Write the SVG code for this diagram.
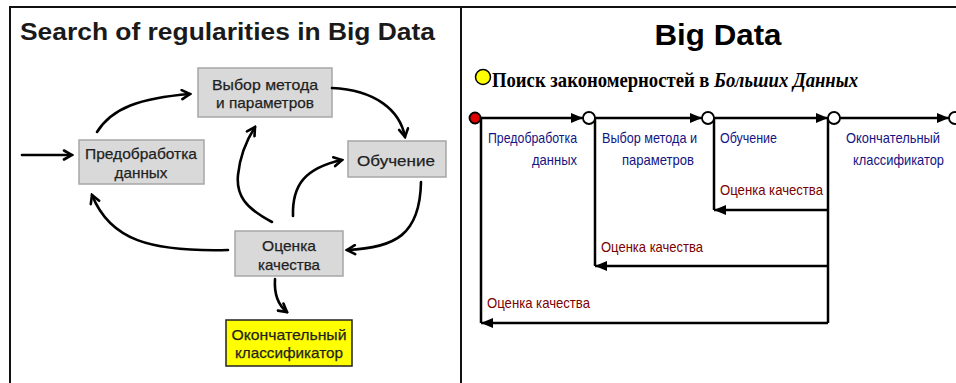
<svg xmlns="http://www.w3.org/2000/svg" width="956" height="383" viewBox="0 0 956 383">
<style>
.frame{stroke:#111;stroke-width:2;fill:none}
.box{fill:#d9d9d9;stroke:#a6a6a6;stroke-width:1.5}
.ybox{fill:#ffff00;stroke:#222;stroke-width:1.5}
.lt{font-family:"Liberation Sans",Arial,sans-serif;font-size:15px;fill:#1f1f1f;text-anchor:middle;stroke:#1f1f1f;stroke-width:0.25}
.curve{fill:none;stroke:#000;stroke-width:2.6;stroke-linecap:round}
.ln{fill:none;stroke:#000;stroke-width:2.5}
.blue{font-family:"Liberation Sans Narrow","Liberation Sans",Arial,sans-serif;font-size:15px;fill:#141482}
.red{font-family:"Liberation Sans Narrow","Liberation Sans",Arial,sans-serif;font-size:15px;fill:#7a0000}
.node{stroke:#000;stroke-width:1.8}
</style>
<defs>
<marker id="v" viewBox="0 0 12 12" refX="10" refY="6" markerWidth="12" markerHeight="12" markerUnits="userSpaceOnUse" orient="auto">
<path d="M2,1.5 L10,6 L2,10.5" fill="none" stroke="#000" stroke-width="2.6" stroke-linecap="round" stroke-linejoin="miter"/>
</marker>
<marker id="tri" viewBox="0 0 12 10" refX="12" refY="5" markerWidth="12" markerHeight="10" markerUnits="userSpaceOnUse" orient="auto">
<path d="M0,0 L12,5 L0,10 z" fill="#000"/>
</marker>
</defs>
<rect width="956" height="383" fill="#fff"/>
<g id="frame">
<path class="frame" d="M10,383 V7 H956 M461,7 V383"/>
</g>

<!-- Left panel -->
<text x="20" y="40" font-family="Liberation Sans,Arial,sans-serif" font-weight="bold" font-size="23" fill="#1a1a1a" textLength="415" lengthAdjust="spacingAndGlyphs">Search of regularities in Big Data</text>

<g id="n-vybor">
<rect class="box" x="198" y="68" width="134" height="49"/>
<text class="lt" x="265" y="90" textLength="106" lengthAdjust="spacingAndGlyphs">Выбор метода</text>
<text class="lt" x="265" y="108" textLength="98" lengthAdjust="spacingAndGlyphs">и параметров</text>
</g>
<g id="n-predobr">
<rect class="box" x="79" y="140" width="125" height="44"/>
<text class="lt" x="141" y="159" textLength="112" lengthAdjust="spacingAndGlyphs">Предобработка</text>
<text class="lt" x="141" y="178" textLength="53" lengthAdjust="spacingAndGlyphs">данных</text>
</g>
<g id="n-obuch">
<rect class="box" x="348" y="141" width="98" height="36"/>
<text class="lt" x="396" y="166" textLength="78" lengthAdjust="spacingAndGlyphs">Обучение</text>
</g>
<g id="n-ocenka">
<rect class="box" x="235" y="231" width="108" height="45"/>
<text class="lt" x="289" y="251" textLength="54" lengthAdjust="spacingAndGlyphs">Оценка</text>
<text class="lt" x="289" y="270" textLength="62" lengthAdjust="spacingAndGlyphs">качества</text>
</g>
<g id="n-final">
<rect class="ybox" x="226" y="320" width="126" height="46"/>
<text class="lt" x="289" y="340" textLength="115" lengthAdjust="spacingAndGlyphs">Окончательный</text>
<text class="lt" x="289" y="358" textLength="108" lengthAdjust="spacingAndGlyphs">классификатор</text>
</g>

<g id="connectors-left">
<path class="curve" marker-end="url(#v)" d="M22,155 L72,155"/>
<path class="curve" marker-end="url(#v)" d="M97,132 C112,108 140,98 190,94"/>
<path class="curve" marker-end="url(#v)" d="M332,88 C375,90 400,110 405,137"/>
<path class="curve" marker-end="url(#v)" d="M421,182 C420,235 395,248 347,250"/>
<path class="curve" marker-end="url(#v)" d="M272,222 C245,208 236,195 238,175 C240,155 248,138 255,127"/>
<path class="curve" marker-end="url(#v)" d="M293,216 C292,185 305,168 342,160"/>
<path class="curve" marker-end="url(#v)" d="M228,250 C150,252 110,240 92,195"/>
<path class="curve" marker-end="url(#v)" d="M275,279 C274,295 278,305 287,312"/>
</g>

<!-- Right panel -->
<text x="718" y="45" text-anchor="middle" font-family="Liberation Sans,Arial,sans-serif" font-weight="bold" font-size="29" fill="#000" textLength="127" lengthAdjust="spacingAndGlyphs">Big Data</text>
<g id="heading">
<circle cx="483" cy="77" r="7.5" fill="#ffff00" stroke="#000" stroke-width="1.5"/>
<text x="492" y="87" font-family="Liberation Serif,'Times New Roman',serif" font-weight="bold" font-size="22" fill="#000" textLength="366" lengthAdjust="spacingAndGlyphs">Поиск закономерностей в <tspan font-style="italic">Больших Данных</tspan></text>
</g>

<g id="connectors-right">
<line class="ln" x1="480.5" y1="118" x2="583" y2="118" marker-end="url(#tri)"/>
<line class="ln" x1="595" y1="118" x2="702" y2="118" marker-end="url(#tri)"/>
<line class="ln" x1="714" y1="118" x2="828" y2="118" marker-end="url(#tri)"/>
<line class="ln" x1="840" y1="118" x2="949" y2="118" marker-end="url(#tri)"/>
<path class="ln" d="M481,118 V323 M595,118 V266 M714,118 V210 M828,118 V323"/>
<line class="ln" x1="828" y1="210" x2="714" y2="210" marker-end="url(#tri)"/>
<line class="ln" x1="828" y1="266" x2="595" y2="266" marker-end="url(#tri)"/>
<line class="ln" x1="828" y1="323" x2="481" y2="323" marker-end="url(#tri)"/>
</g>

<g id="s0"><circle class="node" cx="475" cy="118" r="5.5" fill="#e00000"/></g>
<g id="s1"><circle class="node" cx="589" cy="118" r="6" fill="#fff"/></g>
<g id="s2"><circle class="node" cx="708" cy="118" r="6" fill="#fff"/></g>
<g id="s3"><circle class="node" cx="834" cy="118" r="6" fill="#fff"/></g>
<g id="s4"><circle class="node" cx="955" cy="118" r="6" fill="#fff"/></g>

<g id="labels-right">
<text class="blue" x="488" y="143" textLength="89" lengthAdjust="spacingAndGlyphs">Предобработка</text>
<text class="blue" x="532" y="165" textLength="45" lengthAdjust="spacingAndGlyphs">данных</text>
<text class="blue" x="602" y="143" textLength="95" lengthAdjust="spacingAndGlyphs">Выбор метода и</text>
<text class="blue" x="622" y="165" textLength="72" lengthAdjust="spacingAndGlyphs">параметров</text>
<text class="blue" x="720" y="143" textLength="57" lengthAdjust="spacingAndGlyphs">Обучение</text>
<text class="blue" x="846" y="143" textLength="94" lengthAdjust="spacingAndGlyphs">Окончательный</text>
<text class="blue" x="853" y="165" textLength="91" lengthAdjust="spacingAndGlyphs">классификатор</text>
<text class="red" x="720" y="195" textLength="103" lengthAdjust="spacingAndGlyphs">Оценка качества</text>
<text class="red" x="601" y="252" textLength="102" lengthAdjust="spacingAndGlyphs">Оценка качества</text>
<text class="red" x="487" y="308" textLength="103" lengthAdjust="spacingAndGlyphs">Оценка качества</text>
</g>
</svg>
